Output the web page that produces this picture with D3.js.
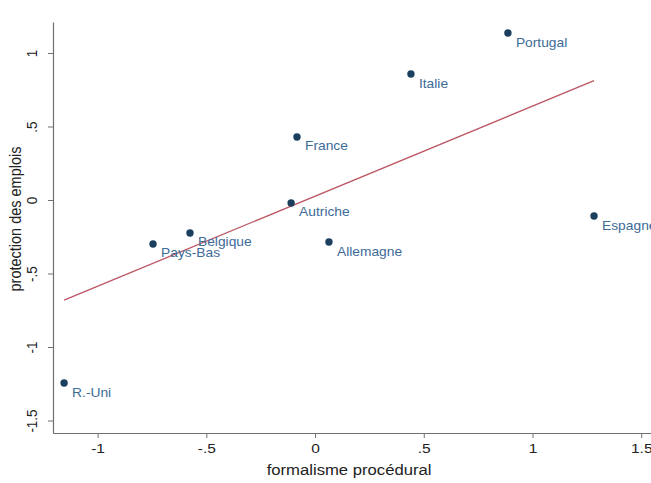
<!DOCTYPE html>
<html>
<head>
<meta charset="utf-8">
<script src="https://cdn.jsdelivr.net/npm/d3@7"></script>
<style>
  html, body { margin: 0; padding: 0; background: #fff; }
  svg { display: block; font-family: "Liberation Sans", Arial, Helvetica, sans-serif; }
</style>
</head>
<body>
<svg id="chart" width="651" height="483"></svg>
<script>
// Pays et leurs scores (formalisme procédural, protection des emplois)
const pays = ["Portugal", "Italie", "France", "Autriche", "Espagne", "Allemagne", "Belgique", "Pays-Bas", "R.-Uni"];
const formalisme = [0.887, 0.441, -0.083, -0.110, 1.283, 0.064, -0.575, -0.745, -1.154];
const protection = [1.136, 0.857, 0.429, -0.020, -0.109, -0.286, -0.224, -0.299, -1.245];
const xTicks = [-1, -0.5, 0, 0.5, 1, 1.5];
const yTicks = [-1.5, -1, -0.5, 0, 0.5, 1];
const xTitle = "formalisme procédural";
const yTitle = "protection des emplois";

const svg = d3.select("#chart");
const plotLeft = 53, plotRight = 651, plotTop = 22, plotBottom = 433;
// Le texte est légèrement élargi horizontalement
const stretch = 1.15;

const x = d3.scaleLinear().domain([-1.205, 1.545]).range([plotLeft, plotRight]);
const y = d3.scaleLinear().domain([-1.585, 1.211]).range([plotBottom, plotTop]);

const fmt = v => v === 0 ? "0" : String(v).replace(/^(-?)0\./, "$1.");

// Axe horizontal
const gx = svg.append("g").attr("transform", `translate(0,${plotBottom})`)
  .call(d3.axisBottom(x).tickValues(xTicks).tickFormat(fmt).tickSize(5).tickSizeOuter(0));
gx.select(".domain").attr("stroke", "#707070").attr("stroke-width", 1.2);
gx.selectAll(".tick line").attr("stroke", "#707070");
gx.selectAll(".tick text")
  .attr("fill", "#222").attr("font-size", 13.5)
  .attr("y", null).attr("dy", null)
  .attr("transform", `translate(0,15) scale(${stretch},1)`)
  .attr("dy", "0.35em");

// Axe vertical, libellés pivotés
const gy = svg.append("g").attr("transform", `translate(${plotLeft},0)`)
  .call(d3.axisLeft(y).tickValues(yTicks).tickFormat(fmt).tickSize(5).tickSizeOuter(0));
gy.select(".domain").attr("stroke", "#707070").attr("stroke-width", 1.2);
gy.selectAll(".tick line").attr("stroke", "#707070");
gy.selectAll(".tick text")
  .attr("fill", "#222").attr("font-size", 13.5)
  .attr("x", null)
  .attr("text-anchor", "middle")
  .attr("transform", `translate(-21,0) scale(${stretch},1) rotate(-90)`)
  .attr("dy", "0.35em");

// Titres des axes
svg.append("text")
  .attr("transform", `translate(${x(0) + 34},470) scale(${stretch},1)`)
  .attr("text-anchor", "middle").attr("dy", "0.35em")
  .attr("font-size", 14.5).attr("fill", "#222")
  .text(xTitle);
svg.append("text")
  .attr("transform", `translate(15,219) scale(${stretch},1) rotate(-90)`)
  .attr("text-anchor", "middle").attr("dy", "0.35em")
  .attr("font-size", 14.5).attr("fill", "#222")
  .text(yTitle);

// Droite d'ajustement (moindres carrés) sur l'étendue des données
const n = pays.length;
const mx = d3.mean(formalisme), my = d3.mean(protection);
let sxy = 0, sxx = 0;
for (let i = 0; i < n; i++) {
  sxy += (formalisme[i] - mx) * (protection[i] - my);
  sxx += (formalisme[i] - mx) ** 2;
}
const pente = sxy / sxx, origine = my - pente * mx;
const [xmin, xmax] = d3.extent(formalisme);
svg.append("line")
  .attr("x1", x(xmin)).attr("y1", y(origine + pente * xmin))
  .attr("x2", x(xmax)).attr("y2", y(origine + pente * xmax))
  .attr("stroke", "#bc5664").attr("stroke-width", 1.3);

// Points et étiquettes
const data = pays.map((p, i) => ({ p, fx: formalisme[i], py: protection[i] }));
const g = svg.append("g");
g.selectAll("circle").data(data).join("circle")
  .attr("cx", d => x(d.fx)).attr("cy", d => y(d.py))
  .attr("r", 3.7).attr("fill", "#1c3f60");
g.selectAll("text").data(data).join("text")
  .attr("transform", d => `translate(${x(d.fx) + 8},${y(d.py) + 13.5}) scale(${stretch},1)`)
  .attr("font-size", 12).attr("fill", "#3d6b98")
  .text(d => d.p);
</script>
</body>
</html>
